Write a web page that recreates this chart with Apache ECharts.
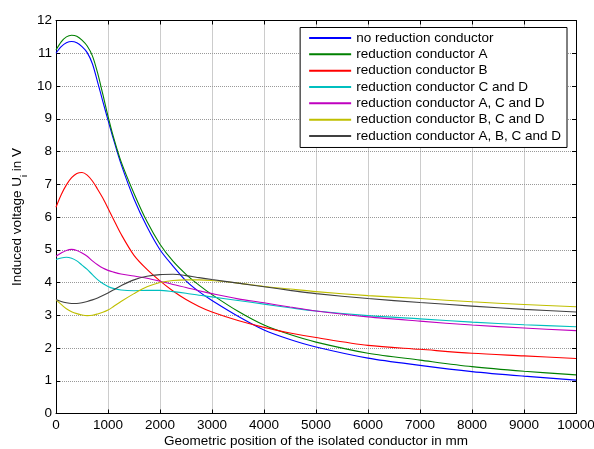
<!DOCTYPE html>
<html>
<head>
<meta charset="utf-8">
<script src="https://cdn.jsdelivr.net/npm/echarts@6/dist/echarts.min.js"></script>
<style>html,body{margin:0;padding:0;background:#fff}#c{width:594px;height:449px}</style>
</head>
<body>
<div id="c"></div>
<script>
const positions = [0,100,200,300,400,500,600,700,800,900,1000,1100,1250,1500,1750,2000,2250,2500,2750,3000,3500,4000,4500,5000,6000,7000,8000,9000,10000];
const noReduction = [11.0,11.2,11.32,11.36,11.32,11.2,11.02,10.68,10.12,9.53,8.96,8.4,7.62,6.55,5.7,5.0,4.5,4.05,3.72,3.45,2.97,2.55,2.26,2.03,1.69,1.47,1.28,1.14,1.02];
const condA = [11.1,11.35,11.5,11.55,11.52,11.4,11.22,10.92,10.4,9.75,9.08,8.47,7.7,6.72,5.86,5.17,4.65,4.25,3.92,3.63,3.12,2.7,2.41,2.18,1.84,1.63,1.43,1.29,1.18];
const condB = [6.3,6.68,6.98,7.2,7.33,7.36,7.28,7.1,6.85,6.58,6.27,5.95,5.48,4.83,4.4,4.05,3.74,3.48,3.27,3.1,2.84,2.63,2.46,2.32,2.08,1.96,1.84,1.76,1.68];
const condCD = [4.7,4.75,4.77,4.74,4.66,4.53,4.4,4.24,4.09,3.97,3.88,3.82,3.77,3.75,3.76,3.76,3.72,3.67,3.61,3.56,3.45,3.34,3.23,3.13,2.99,2.89,2.79,2.71,2.65];
const condACD = [4.8,4.9,4.98,5.01,4.98,4.9,4.8,4.66,4.54,4.44,4.37,4.32,4.26,4.2,4.13,4.04,3.94,3.85,3.75,3.66,3.5,3.38,3.25,3.13,2.95,2.82,2.7,2.61,2.53];
const condBCD = [3.47,3.33,3.2,3.11,3.05,3.01,2.99,3.0,3.04,3.09,3.16,3.26,3.42,3.66,3.87,4.0,4.06,4.08,4.08,4.06,3.98,3.88,3.8,3.72,3.6,3.51,3.41,3.33,3.26];
const condABCD = [3.48,3.42,3.38,3.36,3.36,3.38,3.42,3.47,3.53,3.6,3.68,3.77,3.9,4.08,4.19,4.24,4.25,4.21,4.15,4.09,3.98,3.87,3.76,3.66,3.51,3.39,3.28,3.18,3.1];
const seriesNames = ['no reduction conductor','reduction conductor A','reduction conductor B','reduction conductor C and D','reduction conductor A, C and D','reduction conductor B, C and D','reduction conductor A, B, C and D'];
const seriesColors = ['#0000ff','#008000','#ff0000','#00bfbf','#bf00bf','#bfbf00','#404040'];
const xAxisTitle = 'Geometric position of the isolated conductor in mm';

const allValues = [noReduction, condA, condB, condCD, condACD, condBCD, condABCD];
const font = 'Liberation Sans, Arial, sans-serif';
const fs = 13.5;
const chart = echarts.init(document.getElementById('c'), null, {renderer:'canvas'});
const gridLine = {show:true, lineStyle:{color:'#999999', type:[1,1], width:1}};
const baseAxis = (pos, show) => ({
  type:'value', position:pos,
  axisLine:{show:true, onZero:false, lineStyle:{color:'#000', width:1}},
  axisTick:{show:true, inside:true, length:4, lineStyle:{color:'#000'}},
  axisLabel:{show:show, color:'#000', fontFamily:font, fontSize:fs, margin:5, formatter:(v)=>String(v)},
  splitLine: show ? gridLine : {show:false}
});
chart.setOption({
  animation:false,
  backgroundColor:'#fff',
  grid:{left:56, right:18, top:20.5, bottom:35.5, show:false, containLabel:false, outerBoundsMode:'none'},
  legend:{
    orient:'vertical', right:27, top:27.5,
    backgroundColor:'#fff', borderColor:'#000', borderWidth:1,
    padding:[3.5,6,4.5,8], itemGap:2.33, itemWidth:42, itemHeight:14,
    itemStyle:{opacity:0},
    textStyle:{fontFamily:font, fontSize:fs, color:'#000'},
    data:seriesNames
  },
  xAxis:[
    Object.assign(baseAxis('bottom', true), {min:0, max:10000, interval:1000,
      name:xAxisTitle, nameLocation:'middle', nameGap:20.5, nameMoveOverlap:false,
      nameTextStyle:{fontFamily:font, fontSize:fs, color:'#000'}}),
    Object.assign(baseAxis('top', false), {min:0, max:10000, interval:1000})
  ],
  yAxis:[
    Object.assign(baseAxis('left', true), {min:0, max:12, interval:1,
      name:'{a|Induced voltage U}{s|i}{a| in V}', nameLocation:'middle', nameGap:31.5, nameRotate:90, nameMoveOverlap:false,
      nameTextStyle:{fontFamily:font, fontSize:fs, color:'#000',
        rich:{a:{fontFamily:font, fontSize:fs, color:'#000'}, s:{fontFamily:font, fontSize:9, color:'#000', verticalAlign:'bottom', padding:[0,0,-5,0]}}},
      axisLabel:{color:'#000', fontFamily:font, fontSize:fs, margin:4, formatter:(v)=>String(v)}}),
    Object.assign(baseAxis('right', false), {min:0, max:12, interval:1})
  ],
  series: seriesNames.map((n,i)=>({
    name:n, type:'line', smooth:0.3, symbol:'none',
    lineStyle:{color:seriesColors[i], width:1.1},
    itemStyle:{color:seriesColors[i]},
    data: positions.map((x,j)=>[x, allValues[i][j]])
  }))
});
</script>
</body>
</html>
